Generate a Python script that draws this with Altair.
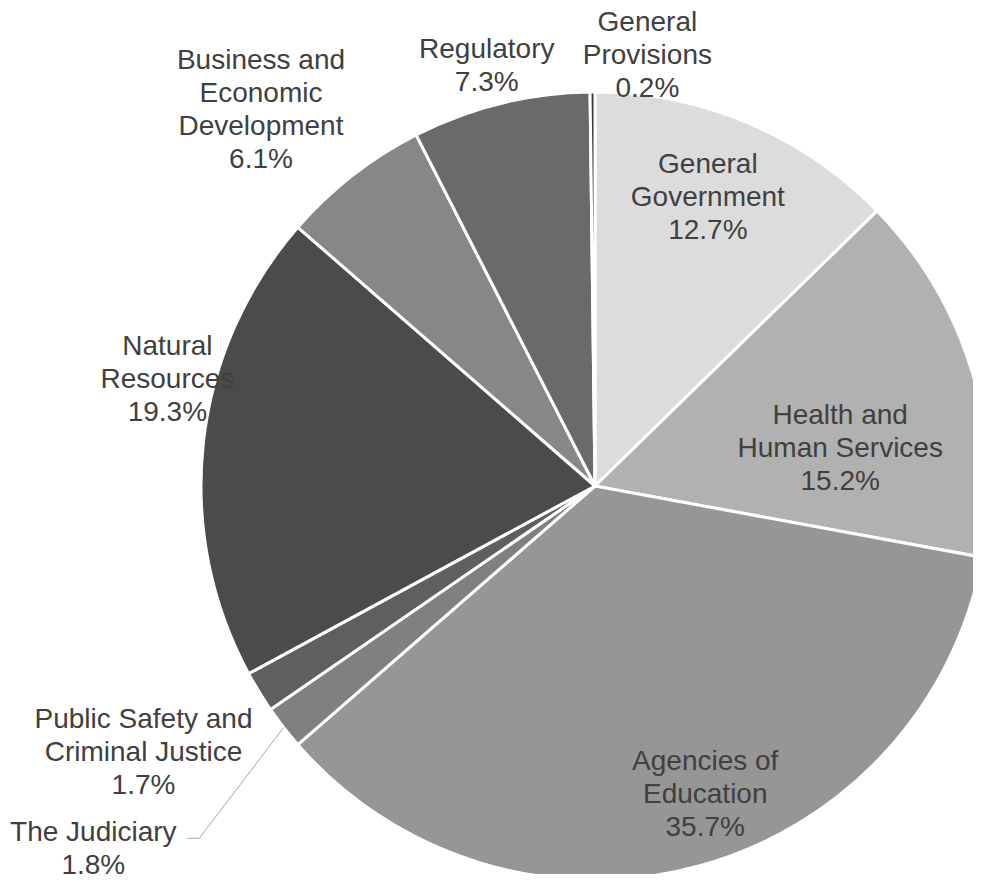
import math
import altair as alt
import pandas as pd

# ---- data ----
categories = [
    "General Government",
    "Health and Human Services",
    "Agencies of Education",
    "The Judiciary",
    "Public Safety and Criminal Justice",
    "Natural Resources",
    "Business and Economic Development",
    "Regulatory",
    "General Provisions",
]
shares = [12.7, 15.2, 35.7, 1.8, 1.7, 19.3, 6.1, 7.3, 0.2]
label_lines = [
    ["General", "Government"],
    ["Health and", "Human Services"],
    ["Agencies of", "Education"],
    ["The Judiciary"],
    ["Public Safety and", "Criminal Justice"],
    ["Natural", "Resources"],
    ["Business and", "Economic", "Development"],
    ["Regulatory"],
    ["General", "Provisions"],
]
colors = ["#dcdcdc", "#b1b1b1", "#969696", "#808080", "#5f5f5f",
          "#4b4b4b", "#878787", "#6a6a6a", "#3a3a3a"]

# ---- layout (not data) ----
CX, CY, R = 587, 478, 394
label_r = [0.79, 0.63, 0.83, 1.57, 1.33, 1.12, 1.28, 1.10, 1.10]
label_shift = [-1.6, 8.0, -4.4, 2.0, 1.0, 8.0, -3.5, -0.6, 7.3]
label_dy = [2, 1, 1, 2, 1, 3, 2, 0, 0]
FONT = "Liberation Sans"
FS = 28
LH = 33

total = sum(shares)
rows, lab_rows = [], []
cum = 0.0
for i, (c, v) in enumerate(zip(categories, shares)):
    mid = (cum + v / 2) / total * 360.0
    cum += v
    rows.append({"category": c, "share": v, "idx": i})
    ang = math.radians(mid + label_shift[i])
    r = label_r[i] * R
    lines = label_lines[i] + [f"{v:.1f}%"]
    lx = CX + r * math.sin(ang)
    ly = CY - r * math.cos(ang) - (len(lines) - 1) / 2 * LH + label_dy[i]
    lab_rows.append({"category": c, "label": "\n".join(lines), "lx": lx, "ly": ly})

df = pd.DataFrame(rows)
lab = pd.DataFrame(lab_rows)

# leader line for The Judiciary
j = categories.index("The Judiciary")
jmid = (sum(shares[:j]) + shares[j] / 2) / total * 2 * math.pi
jl = lab_rows[j]
leader = pd.DataFrame([
    {"x": CX + R * math.sin(jmid), "y": CY - R * math.cos(jmid), "o": 0},
    {"x": jl["lx"] + 106, "y": jl["ly"] + 5, "o": 1},
    {"x": jl["lx"] + 94, "y": jl["ly"] + 5, "o": 2},
])

pie = alt.Chart(df).mark_arc(radius=R, stroke="white", strokeWidth=3).encode(
    theta=alt.Theta("share:Q", stack=True),
    order=alt.Order("idx:Q"),
    color=alt.Color("category:N", scale=alt.Scale(domain=categories, range=colors), legend=None),
    x=alt.value(CX),
    y=alt.value(CY),
)

line = alt.Chart(leader).mark_line(color="#a6a6a6", strokeWidth=1).encode(
    x=alt.X("x:Q", scale=None, axis=None),
    y=alt.Y("y:Q", scale=None, axis=None),
    order="o:Q",
)

labels = alt.Chart(lab).mark_text(
    font=FONT, fontSize=FS, color="#404040", lineBreak="\n", lineHeight=LH,
    align="center", baseline="middle",
).encode(
    x=alt.X("lx:Q", scale=None, axis=None),
    y=alt.Y("ly:Q", scale=None, axis=None),
    text="label:N",
)

chart = alt.layer(pie, line, labels).properties(
    width=965, height=866,
    autosize=alt.AutoSizeParams(type="none"),
    padding=0,
).configure_view(stroke=None)

chart.save("out.html", embed_options={"renderer": "svg", "actions": False})
